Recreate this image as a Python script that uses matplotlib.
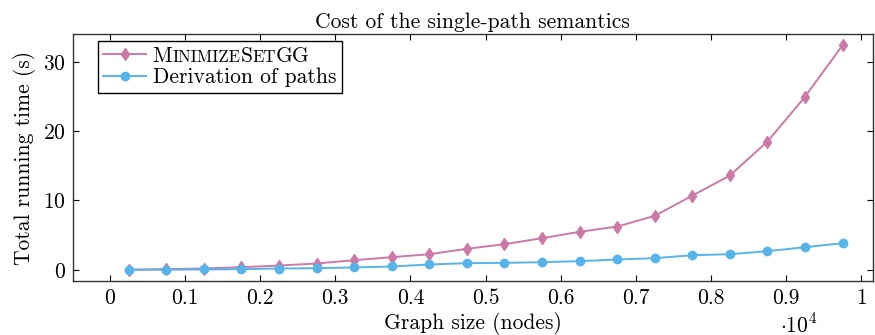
import matplotlib
matplotlib.use("Agg")
from matplotlib import pyplot as plt
from matplotlib.offsetbox import TextArea, HPacker, AnnotationBbox
from matplotlib.ticker import FuncFormatter

FS = 15.5
plt.rcParams['font.family'] = ['cmr10', 'DejaVu Serif']
plt.rcParams['mathtext.fontset'] = 'cm'
plt.rcParams['axes.formatter.use_mathtext'] = True
plt.rcParams['font.size'] = FS

# graph sizes (x 10^4 nodes)
sizes = [0.025, 0.075, 0.125, 0.175, 0.225, 0.275, 0.325, 0.375, 0.425, 0.475,
         0.525, 0.575, 0.625, 0.675, 0.725, 0.775, 0.825, 0.875, 0.925, 0.975]
# running times (s)
minimize_set_gg = [0.03, 0.1, 0.19, 0.38, 0.62, 0.91, 1.39, 1.82, 2.25, 3.03,
                   3.7, 4.56, 5.48, 6.24, 7.78, 10.7, 13.6, 18.5, 24.97, 32.4]
derivation = [0.0, 0.02, 0.05, 0.1, 0.19, 0.24, 0.34, 0.48, 0.77, 0.96,
              1.0, 1.1, 1.25, 1.49, 1.68, 2.11, 2.25, 2.69, 3.26, 3.84]

pink = '#CC79A7'
blue = '#56B4E9'

fig = plt.figure(figsize=(8.75, 3.35), dpi=100)
ax = fig.add_axes([0.0834, 0.161, 0.914, 0.7375])

ax.plot(sizes, minimize_set_gg, color=pink, lw=1.4, marker='d', ms=6,
        label='M')
ax.plot(sizes, derivation, color=blue, lw=1.4, marker='o', ms=6,
        label='Derivation of paths')

ax.set_xlim(-0.049, 1.015)
ax.set_ylim(-1.62, 34.0)
ax.set_xticks([i / 10 for i in range(11)])
ax.set_yticks([0, 10, 20, 30])
ax.xaxis.set_major_formatter(FuncFormatter(lambda v, p: '%g' % round(v, 2)))
ax.tick_params(direction='in', top=True, right=True, length=4, width=0.8,
               labelsize=FS, pad=5)
for s in ax.spines.values():
    s.set_linewidth(1.0)
    s.set_color('#333333')

ax.set_title('Cost of the single-path semantics', fontsize=FS, pad=4)
ax.set_xlabel('Graph size (nodes)', labelpad=3)
ax.set_ylabel('Total running time (s)', labelpad=5)
fig.text(0.891, 0.008, r'$\cdot 10^4$', fontsize=FS, ha='left', va='baseline')

leg = ax.legend(loc='upper left', bbox_to_anchor=(0.031, 0.972), frameon=True,
                fancybox=False, edgecolor='black', framealpha=1,
                handlelength=2.0, handletextpad=0.3, borderpad=0.25,
                labelspacing=0.1, borderaxespad=0, fontsize=FS)
leg.get_frame().set_linewidth(1.0)

# small caps label for the first entry, drawn over a transparent placeholder
ph = leg.get_texts()[0]
ph.set_alpha(0)
big, small = FS, FS * 0.78
parts = [('M', big), ('INIMIZE', small), ('S', big), ('ET', small), ('GG', big)]
boxes = [TextArea(t, textprops=dict(fontsize=sz, family=['cmr10'])) for t, sz in parts]
pack = HPacker(children=boxes, align='baseline', pad=0, sep=0)
ab = AnnotationBbox(pack, (0, 0), xycoords=ph, box_alignment=(0, 0),
                    frameon=False, pad=0, zorder=10)
ax.add_artist(ab)

fig.canvas.draw()
fig.savefig('out.png', dpi=100)
